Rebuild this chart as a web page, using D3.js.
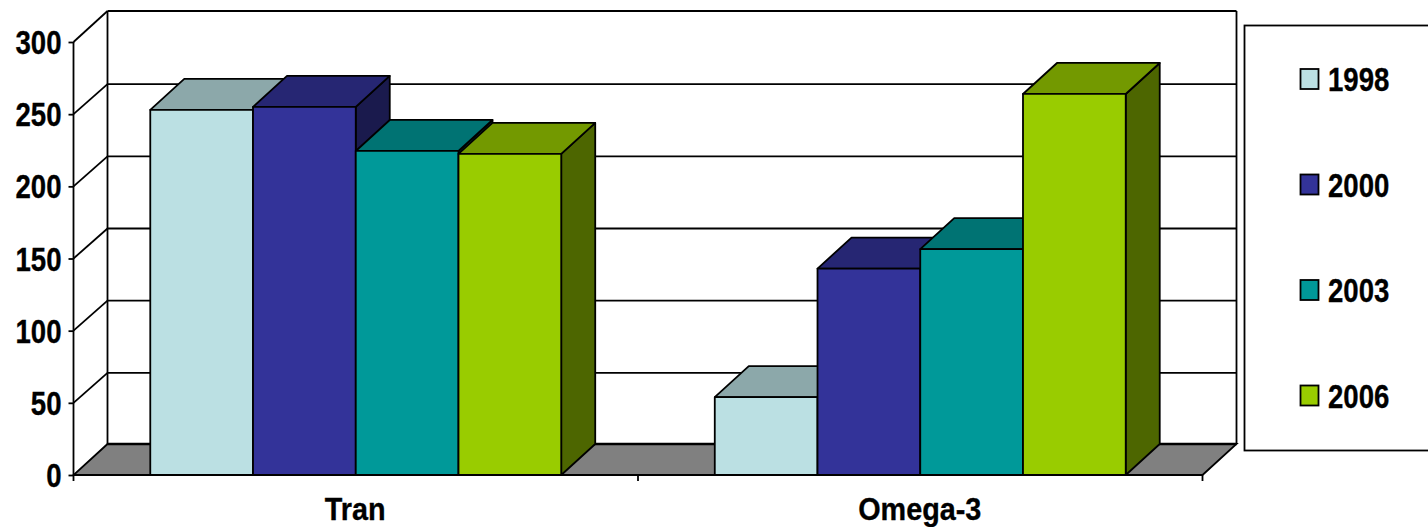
<!DOCTYPE html>
<html>
<head>
<meta charset="utf-8">
<script src="https://cdn.jsdelivr.net/npm/d3@7"></script>
<style>
  html, body { margin: 0; padding: 0; background: #fff; overflow: hidden; }
  svg { display: block; }
  text { font-family: "Liberation Sans", Arial, sans-serif; font-weight: 700; font-size: 30px; fill: #000; stroke: #000; stroke-width: 0.3px; }
</style>
</head>
<body>
<svg id="chart" width="1428" height="527"></svg>
<script>
const categories = ["Tran", "Omega-3"];
const seriesNames = ["1998", "2000", "2003", "2006"];
const tranValues = [253, 255, 224.5, 222.5];
const omegaValues = [54, 143, 156.5, 264];
const yTicks = [0, 50, 100, 150, 200, 250, 300];

const frontColors = ["#BBE0E3", "#333399", "#009999", "#99CC00"];
const topColors = ["#8CA8AA", "#262673", "#007373", "#739900"];
const sideColors = ["#5E7072", "#1A1A4D", "#004D4D", "#4D6600"];

const plot = { left: 73.5, right: 1202.5, bottom: 475, top: 42 };
const depth = { dx: 34, dy: -31 };
const glyphScale = "scale(0.92,1.13)";
const categoryGlyphScale = "scale(0.96,1.06)";
const lineWidth = 1.8;

const svg = d3.select("#chart");
const y = d3.scaleLinear().domain([0, 300]).range([plot.bottom, plot.top]);
const x0 = d3.scaleBand().domain(categories)
  .range([plot.left, plot.right]).paddingInner(0.272).paddingOuter(0.136);
const x1 = d3.scaleBand().domain(seriesNames).range([0, x0.bandwidth()]);

const pts = a => a.map(p => p.join(",")).join(" ");
const line = (g, x1p, y1p, x2p, y2p, w = lineWidth) => g.append("line")
  .attr("x1", x1p).attr("y1", y1p).attr("x2", x2p).attr("y2", y2p)
  .attr("stroke", "#000").attr("stroke-width", w);

// Back wall, side wall and floor of the 3D box
const box = svg.append("g");
const bl = plot.left, br = plot.right, by = plot.bottom;
const { dx, dy } = depth;
box.append("polygon")
  .attr("points", pts([[bl, by], [br, by], [br + dx, by + dy], [bl + dx, by + dy]]))
  .attr("fill", "#808080").attr("stroke", "#000").attr("stroke-width", lineWidth);
line(box, bl + dx, by + dy, br + dx, by + dy, 2.4);
line(box, bl + dx, by + dy, bl + dx, y(300) + dy);
line(box, br + dx, by + dy, br + dx, y(300) + dy);

// Gridlines wrap from the side wall across the back wall
yTicks.filter(t => t > 0).forEach(t => {
  const wallY = y(t) + dy + (t === 300 ? 0 : 1);
  line(box, bl, y(t), bl + dx, wallY);
  line(box, bl + dx, wallY, br + dx, wallY);
});

// Value axis
const yAxis = svg.append("g")
  .attr("transform", `translate(${plot.left},0)`)
  .call(d3.axisLeft(y).tickValues(yTicks).tickSize(5).tickPadding(0));
yAxis.selectAll("path,line").attr("stroke", "#000").attr("stroke-width", lineWidth);
yAxis.select("path").attr("d", `M0,${y(300)}V${y(0)}`);
yAxis.selectAll("text")
  .attr("x", 0).attr("dy", null).attr("y", 0).attr("text-anchor", "end")
  .attr("transform", `translate(-12,11.5) ${glyphScale}`);

// Category boundaries on the front edge
const xAxisLine = svg.append("g");
line(xAxisLine, plot.left, plot.bottom, plot.right, plot.bottom);
const mid = (plot.left + plot.right) / 2;
[plot.left, mid, plot.right].forEach(px => line(xAxisLine, px, plot.bottom, px, plot.bottom + 6));

// Bars, painted left to right so nearer faces overlap correctly
const rows = [tranValues, omegaValues];
categories.forEach((cat, c) => {
  const g = svg.append("g").attr("transform", `translate(${x0(cat)},0)`);
  rows[c].forEach((v, i) => {
    const l = x1(seriesNames[i]), r = l + x1.bandwidth();
    const t = y(v), b = y(0);
    const bar = g.append("g")
      .attr("stroke", "#000").attr("stroke-width", lineWidth).attr("stroke-linejoin", "round");
    bar.append("polygon").attr("fill", sideColors[i])
      .attr("points", pts([[r, b], [r + dx, b + dy], [r + dx, t + dy], [r, t]]));
    bar.append("polygon").attr("fill", topColors[i])
      .attr("points", pts([[l, t], [l + dx, t + dy], [r + dx, t + dy], [r, t]]));
    bar.append("rect").attr("fill", frontColors[i])
      .attr("x", l).attr("y", t).attr("width", r - l).attr("height", b - t);
  });
  svg.append("text")
    .attr("text-anchor", "middle")
    .attr("transform", `translate(${x0(cat) + x0.bandwidth() / 2 - 0.5},519.5) ${categoryGlyphScale}`)
    .text(cat);
});

// Legend, running off the right edge
const legendY = d3.scalePoint().domain(seriesNames).range([79, 395.5]);
svg.append("rect").attr("x", 1244.5).attr("y", 25.5).attr("width", 200).attr("height", 425)
  .attr("fill", "#fff").attr("stroke", "#000").attr("stroke-width", lineWidth);
seriesNames.forEach((s, i) => {
  const cy = legendY(s);
  svg.append("rect").attr("x", 1300.5).attr("y", cy - 10).attr("width", 18).attr("height", 20)
    .attr("fill", frontColors[i]).attr("stroke", "#000").attr("stroke-width", lineWidth);
  svg.append("text")
    .attr("transform", `translate(1328,${cy + 12}) ${glyphScale}`)
    .text(s);
});
</script>
</body>
</html>
